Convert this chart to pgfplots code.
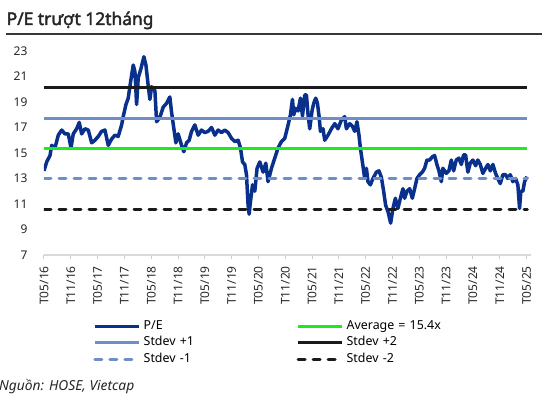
\documentclass[border=0pt]{standalone}
\usepackage{pgfplots}
\pgfplotsset{compat=1.18}
\usepackage{fontspec}
\setmainfont{Noto Sans}
\newfontfamily\titlefont{Noto Sans}[FakeBold=2.2]
\definecolor{pe}{RGB}{8,48,140}
\definecolor{sdone}{RGB}{112,142,198}
\definecolor{avgc}{RGB}{30,235,30}
\definecolor{sdtwo}{RGB}{26,26,26}
\definecolor{rulec}{RGB}{55,55,55}
\begin{document}
\begin{tikzpicture}
\path[use as bounding box] (0pt,0pt) rectangle (542pt,399pt);
\fill[rulec] (6pt,364pt) rectangle (542pt,365.6pt);
\node[anchor=base west, inner sep=0pt, font=\titlefont\fontsize{17.4}{20}\selectfont, text=black!85] at (6.5pt,374pt) {P/E trượt 12tháng};
\node[anchor=base west, inner sep=0pt, font=\itshape\fontsize{13.8}{15}\selectfont, text=black!85] at (-1pt,8.5pt) {Nguồn: HOSE, Vietcap};
\begin{axis}[
  at={(44pt,144pt)}, anchor=south west,
  scale only axis, width=487pt, height=204pt,
  xmin=0, xmax=109, ymin=7, ymax=23,
  axis x line*=bottom, axis y line*=left,
  y axis line style={draw=none},
  x axis line style={draw=black!15, line width=1.2pt},
  xtick={0,6,...,108},
  xticklabels={T05/16,T11/16,T05/17,T11/17,T05/18,T11/18,T05/19,T11/19,T05/20,T11/20,T05/21,T11/21,T05/22,T11/22,T05/23,T11/23,T05/24,T11/24,T05/25},
  xticklabel style={rotate=90, anchor=east, inner xsep=7pt, font=\fontsize{12}{12}\selectfont, text=black!85},
  x tick style={draw=black!20, line width=1pt},
  tick align=outside, major tick length=4pt,
  ytick={7,9,...,23},
  y tick style={draw=none},
  yticklabel style={font=\fontsize{12}{12}\selectfont, text=black!85, xshift=-9pt},
  /pgf/number format/assume math mode=true,
  legend columns=2,
  legend style={at={(axis description cs:0.1006,-0.308)}, anchor=north west, draw=none, fill=none,
    inner sep=0pt, column sep=0pt, row sep=0pt,
    font=\fontsize{12.4}{12.4}\selectfont,
    nodes={text width=150pt, align=left, inner xsep=3pt, inner ysep=2pt, text height=9pt, text depth=3.5pt},
    cells={anchor=west}},
  legend image code/.code={\draw[#1] (0pt,0pt) -- (44pt,0pt);},
]
\addplot[pe, line width=3.5pt, line join=round] coordinates {
(0,13.6)(0.6,14.3)(1.34,14.8)(1.72,15.6)(2.46,15.4)(3.2,16.4)(3.96,16.8)(4.7,16.5)(5.43,16.5)(6.04,15.4)(6.55,16.5)(7.31,16.9)(7.89,17.4)(8.43,16.5)(9.17,16.9)(9.91,16.8)(10.67,15.8)(11.4,16.0)(12.14,16.3)(12.9,16.7)(13.64,16.8)(14.38,15.6)(15.14,16.1)(15.88,16.4)(16.61,16.3)(17.37,17.2)(17.73,17.85)(18.34,18.8)(18.85,19.3)(19.39,20.6)(19.97,21.9)(20.35,21.4)(20.73,18.8)(21.09,20.9)(21.69,21.6)(22.36,22.55)(22.81,21.9)(23.32,20.3)(23.7,19.2)(24.08,20.2)(24.82,19.9)(25.2,17.45)(25.94,17.8)(26.68,18.6)(27.44,18.9)(28.17,19.4)(28.55,18.2)(29.07,16.9)(29.52,15.8)(30.03,16.5)(30.79,15.6)(31.3,15.1)(31.91,15.8)(32.49,16.0)(33.03,16.7)(33.76,17.2)(34.5,16.4)(35.26,16.8)(36.0,16.6)(36.74,16.7)(37.5,17.0)(38.24,16.4)(38.97,16.8)(39.73,16.6)(40.47,16.8)(41.21,16.6)(41.97,16.15)(42.71,15.9)(43.45,16.0)(43.98,15.4)(44.43,14.3)(44.94,14.1)(45.32,13.3)(45.68,10.9)(45.91,10.2)(46.22,11.2)(46.67,12.5)(47.18,12.0)(47.69,13.8)(48.3,14.3)(49.04,13.5)(49.64,14.2)(50.15,12.75)(50.91,13.8)(51.65,14.6)(52.39,15.4)(53.15,15.9)(53.89,16.15)(54.63,17.2)(55.16,18.0)(55.61,19.2)(55.9,18.0)(56.35,18.5)(56.86,18.3)(57.4,19.3)(57.85,17.9)(58.36,19.55)(58.74,19.55)(59.1,18.0)(59.48,16.9)(59.99,18.3)(60.37,18.9)(60.82,19.3)(61.2,18.9)(61.56,17.9)(61.87,16.7)(62.45,16.9)(62.83,16.0)(63.57,16.4)(64.33,16.9)(65.07,17.3)(65.8,16.9)(66.57,17.6)(67.3,17.85)(67.68,16.9)(68.42,17.3)(69.02,17.1)(69.54,16.7)(70.05,17.45)(70.5,16.4)(70.81,15.4)(71.26,14.3)(71.78,13.0)(72.16,13.8)(72.51,12.75)(73.05,12.5)(73.63,13.0)(74.39,13.5)(74.97,13.6)(75.51,13.1)(76.02,12.0)(76.47,10.9)(76.99,10.4)(77.59,9.5)(78.1,10.65)(78.64,11.45)(79.22,10.65)(79.76,11.45)(80.34,12.2)(80.72,11.45)(81.23,12.0)(81.84,12.2)(82.44,11.45)(82.95,12.2)(83.47,13.0)(84.07,13.3)(84.68,13.5)(85.19,13.8)(85.71,14.45)(86.31,14.45)(86.91,14.7)(87.43,14.8)(87.94,14.1)(88.39,13.6)(88.93,12.75)(89.28,13.8)(90.04,13.4)(90.62,13.6)(91.16,14.45)(91.68,13.6)(92.28,14.45)(92.86,14.6)(93.4,14.1)(93.91,14.85)(94.36,14.85)(94.87,13.5)(95.41,14.2)(95.99,14.45)(96.6,14.0)(97.11,14.45)(97.65,14.1)(98.23,13.4)(98.84,13.8)(99.35,14.1)(99.88,13.6)(100.47,14.1)(101.07,13.4)(101.58,13.0)(102.12,12.6)(102.7,13.3)(103.3,13.3)(103.81,13.0)(104.35,13.3)(104.94,12.75)(105.54,13.0)(106.06,12.5)(106.44,10.65)(106.73,12.0)(107.18,12.0)(107.56,12.75)(108.08,13.15)
};
\addlegendentry{P/E}
\addplot[avgc, line width=3pt] coordinates {(0,15.35)(108.2,15.35)};
\addlegendentry{Average = 15.4x}
\addplot[sdone, line width=3pt] coordinates {(0,17.7)(108.2,17.7)};
\addlegendentry{Stdev +1}
\addplot[sdtwo, line width=3pt] coordinates {(0,20.1)(108.2,20.1)};
\addlegendentry{Stdev +2}
\addplot[sdone, line width=3pt, line cap=round, dash pattern=on 7pt off 8pt] coordinates {(0,13.0)(108.2,13.0)};
\addlegendentry{Stdev -1}
\addplot[sdtwo, line width=3pt, line cap=round, dash pattern=on 7pt off 8pt] coordinates {(0,10.6)(108.2,10.6)};
\addlegendentry{Stdev -2}
\end{axis}
\end{tikzpicture}
\end{document}
